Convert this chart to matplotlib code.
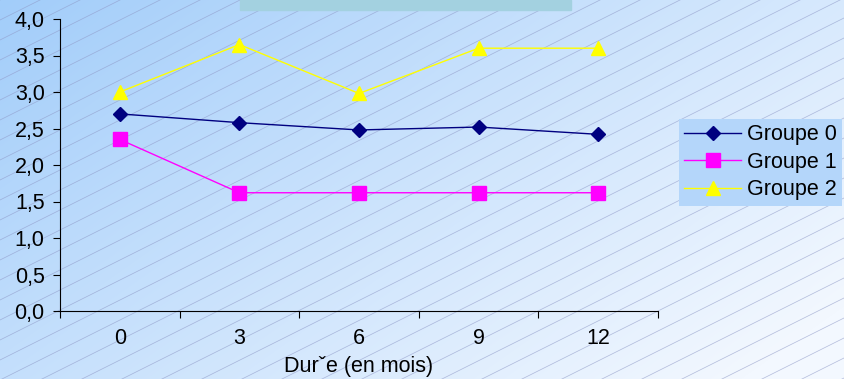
import numpy as np
import matplotlib
matplotlib.use("Agg")
import matplotlib.pyplot as plt
from matplotlib.ticker import FuncFormatter, FixedLocator
from matplotlib.patches import Rectangle

plt.rcParams['font.family'] = ['Liberation Sans', 'DejaVu Sans']

mois = ['0', '3', '6', '9', '12']
groupe0 = [2.70, 2.58, 2.48, 2.52, 2.42]
groupe1 = [2.35, 1.62, 1.62, 1.62, 1.62]
groupe2 = [3.00, 3.65, 2.98, 3.60, 3.60]

W, H = 845, 379
fs = 15.5
fig = plt.figure(figsize=(W / 100, H / 100), dpi=100)

# fond : degrade bleu -> blanc avec hachures diagonales
bg = fig.add_axes([0, 0, 1, 1], zorder=-10)
xx, yy = np.meshgrid(np.linspace(0, 1, W), np.linspace(0, 1, H))
t = np.clip(0.66 * xx + 0.42 * yy, 0, 1)
c0 = np.array([162, 205, 250]) / 255
c1 = np.array([243, 248, 255]) / 255
img = c0[None, None, :] * (1 - t[..., None]) + c1[None, None, :] * t[..., None]
bg.imshow(img, extent=[0, W, H, 0], aspect='auto')
for b in np.arange(-W * 0.5 - 40, H + 40, 20):
    xs = np.array([0, W])
    ys = b - 0.5 * xs + W * 0.5
    bg.plot(xs, ys, color=(0.56, 0.6, 0.78), lw=0.55, alpha=0.6)
bg.add_patch(Rectangle((240, 0), 331, 10, color='#a3d1e0', zorder=5))
bg.set_xlim(0, W)
bg.set_ylim(H, 0)
bg.axis('off')

ax = fig.add_axes([60 / W, 1 - 311 / H, 598 / W, 292 / H])
ax.patch.set_alpha(0)
x = np.arange(len(mois))
ax.plot(x, groupe0, color='#000080', lw=1, marker='D', ms=7, label='Groupe 0')
ax.plot(x, groupe1, color='#ff00ff', lw=1, marker='s', ms=10, label='Groupe 1')
ax.plot(x, groupe2, color='#ffff00', lw=1, marker='^', ms=10, label='Groupe 2')

ax.set_xlim(-0.5, len(mois) - 0.5)
ax.set_ylim(0, 4)
ax.set_yticks(np.arange(0, 4.01, 0.5))
ax.yaxis.set_major_formatter(FuncFormatter(lambda v, p: f"{v:.1f}".replace('.', ',')))
ax.xaxis.set_major_locator(FixedLocator(np.arange(-0.5, len(mois), 1)))
ax.xaxis.set_major_formatter(FuncFormatter(lambda v, p: ''))
ax.set_xticks(x, minor=True)
ax.set_xticklabels(mois, minor=True)
ax.tick_params(axis='x', which='minor', length=0, labelsize=fs, pad=12)
ax.tick_params(axis='x', which='major', direction='out', length=5)
ax.tick_params(axis='y', direction='out', length=5, labelsize=fs, pad=6)
for s in ['top', 'right']:
    ax.spines[s].set_visible(False)
ax.set_xlabel('Durˇe (en mois)', fontsize=fs, labelpad=5)

leg = fig.legend(loc='upper left', bbox_to_anchor=(679 / W, 1 - 119 / H),
                 fontsize=fs, frameon=True, fancybox=False, borderpad=0.25,
                 handlelength=2.65, handletextpad=0.25, labelspacing=0.3,
                 borderaxespad=0)
leg.get_frame().set_facecolor('#b4d6fa')
leg.get_frame().set_edgecolor('none')
leg.get_frame().set_alpha(1)

fig.savefig('out.png', dpi=100)
